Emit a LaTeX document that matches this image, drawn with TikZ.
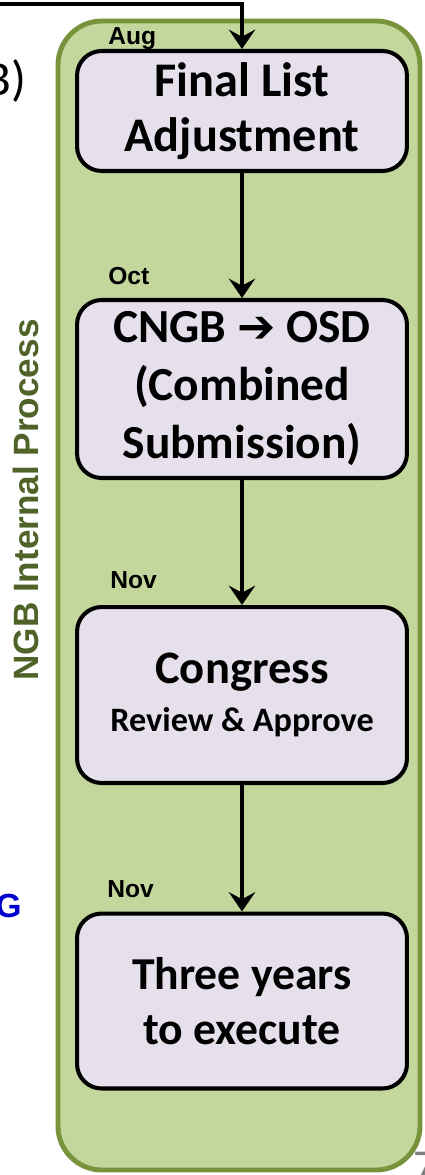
\documentclass[tikz,border=0pt]{standalone}
\usepackage{fontspec}
\setmainfont{Carlito}
\newfontfamily\arialfont{Liberation Sans}
\newfontfamily\arrowfont{DejaVu Sans}
\usetikzlibrary{arrows.meta}
\definecolor{NGBgreen}{HTML}{C3D69B}
\definecolor{NGBborder}{HTML}{77933C}
\definecolor{NGBdark}{HTML}{4F6228}
\definecolor{stagefill}{HTML}{E5E0EC}
\definecolor{cutblue}{HTML}{0000CC}

\tikzset{
  stagebox/.style={draw=black, line width=2.3pt, fill=stagefill, rounded corners=14pt,
    minimum width=6.6cm, align=center, inner sep=0pt},
  month/.style={anchor=base west, inner sep=0pt, font=\arialfont\bfseries\fontsize{14}{16}\selectfont},
  flow/.style={line width=1.8pt, -{Stealth[length=11pt,width=15pt,inset=4pt]}}
}

\begin{document}
\begin{tikzpicture}[x=0.02cm,y=-0.02cm]
    \useasboundingbox (0,0) rectangle (424,1175);

    % Green panel behind the steps
    \draw[line width=2.8pt, draw=NGBborder, fill=NGBgreen, rounded corners=25pt] (58,21) rectangle (420,1170);

    % Side title
    \node[rotate=90, text=NGBdark, font=\arialfont\bfseries\fontsize{20}{24}\selectfont] (title) at (26,500) {NGB Internal Process};

    % Cut off texts at the edges
    \node[anchor=base east, inner sep=0pt, font=\fontsize{28}{30}\selectfont] (cutB) at (27,96) {B)};
    \node[anchor=base east, inner sep=0pt, text=cutblue, font=\arialfont\bfseries\fontsize{19}{22}\selectfont] (cutG) at (22,917) {G};
    \node[anchor=north west, inner sep=0pt, text=gray, font=\fontsize{26}{28}\selectfont] (pagenum) at (413,1152) {7};

    % The four steps
    \node[stagebox, minimum height=2.4cm, font=\bfseries\fontsize{27.5}{31}\selectfont] (final) at (242,111) {Final List\\Adjustment};
    \node[stagebox, minimum height=3.56cm, font=\bfseries\fontsize{27}{33}\selectfont] (combined) at (242,389)
        {CNGB {\arrowfont\bfseries\fontsize{26}{33}\selectfont ➔} OSD\\(Combined\\Submission)};
    \node[stagebox, minimum height=3.52cm, font=\bfseries\fontsize{26.5}{28}\selectfont] (congress) at (242,695)
        {Congress\\[-1pt]{\fontsize{19.5}{28}\selectfont Review \& Approve}};
    \node[stagebox, minimum height=3.5cm, font=\bfseries\fontsize{26}{31}\selectfont] (execute) at (242,1001) {Three years\\to execute};

    % Months above the steps
    \node[month] (aug) at (108,45) {Aug};
    \node[month] (oct) at (108,285) {Oct};
    \node[month] (nov1) at (110,588) {Nov};
    \node[month] (nov2) at (107,897) {Nov};

    % Arrows
    \coordinate (feed) at (0,4);
    \draw[flow] (feed) -| (final.north);
    \draw[flow] (final) -- (combined);
    \draw[flow] (combined) -- (congress);
    \draw[flow] (congress) -- (execute);
\end{tikzpicture}
\end{document}
